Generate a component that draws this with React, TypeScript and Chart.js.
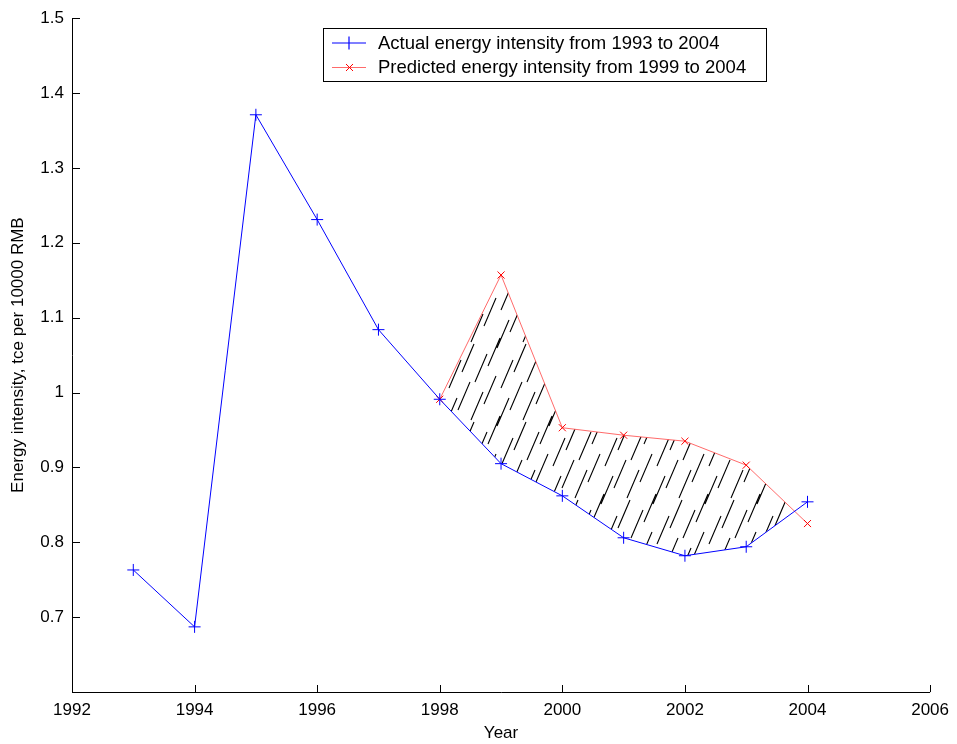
import React, { useEffect, useRef } from "react";
import { Chart, registerables } from "chart.js";

Chart.register(...registerables);

const years = [1993, 1994, 1995, 1996, 1997, 1998, 1999, 2000, 2001, 2002, 2003, 2004];
const actual = [0.763, 0.687, 1.371, 1.231, 1.084, 0.991, 0.905, 0.862, 0.806, 0.782, 0.794, 0.854];
const predYears = [1998, 1999, 2000, 2001, 2002, 2003, 2004];
const predicted = [0.991, 1.157, 0.953, 0.943, 0.935, 0.903, 0.825];
const legendLabels = [
  "Actual energy intensity from 1993 to 2004",
  "Predicted energy intensity from 1999 to 2004",
];
const BLUE = "#0000ff";
const RED = "#ff0000";
const RED_LINE = "rgba(255,80,80,0.85)";
const FONT = "'Liberation Sans', Arial, Helvetica, sans-serif";

function makeHatch(ctx: CanvasRenderingContext2D) {
  const W = 52, H = 78;
  const c = document.createElement("canvas");
  c.width = W; c.height = H;
  const g = c.getContext("2d")!;
  g.strokeStyle = "#000";
  g.lineWidth = 1.1;
  const starts = [
    [3, 30], [16, 14], [29, 36], [42, 20],
    [7, 70], [20, 54], [33, 76], [46, 60],
  ];
  g.beginPath();
  for (const [x1, y1] of starts) {
    const x2 = x1 + 12, y2 = y1 - 28;
    for (const ox of [-W, 0, W]) {
      for (const oy of [-H, 0, H]) {
        g.moveTo(x1 + ox, y1 + oy);
        g.lineTo(x2 + ox, y2 + oy);
      }
    }
  }
  g.stroke();
  return ctx.createPattern(c, "repeat");
}

const axesPlugin = {
  id: "matlabAxes",
  afterDraw(chart: any) {
    const { ctx, chartArea, scales } = chart;
    const { left, right, top, bottom } = chartArea;
    ctx.save();
    ctx.strokeStyle = "#000";
    ctx.lineWidth = 1;
    ctx.beginPath();
    ctx.moveTo(left + 0.5, top);
    ctx.lineTo(left + 0.5, bottom + 0.5);
    ctx.lineTo(right, bottom + 0.5);
    scales.y.ticks.forEach((t: any) => {
      const y = Math.round(scales.y.getPixelForValue(t.value)) + 0.5;
      ctx.moveTo(left, y);
      ctx.lineTo(left + 8, y);
    });
    scales.x.ticks.forEach((t: any) => {
      const x = Math.round(scales.x.getPixelForValue(t.value)) + 0.5;
      ctx.moveTo(x, bottom);
      ctx.lineTo(x, bottom - 7);
    });
    ctx.stroke();

    // legend
    const bx = 323, by = 28, bw = 444, bh = 54;
    ctx.fillStyle = "#fff";
    ctx.fillRect(bx, by, bw, bh);
    ctx.fillStyle = "#000";
    ctx.fillRect(bx, by, bw, 1);
    ctx.fillRect(bx, by + bh - 1, bw, 1);
    ctx.fillRect(bx, by, 1, bh);
    ctx.fillRect(bx + bw - 1, by, 1, bh);

    ctx.lineWidth = 1.2;
    // row 1: blue line + cross
    const r1 = 43;
    ctx.strokeStyle = BLUE;
    ctx.beginPath();
    ctx.moveTo(332, r1); ctx.lineTo(366, r1);
    ctx.moveTo(349, r1 - 6.5); ctx.lineTo(349, r1 + 6.5);
    ctx.stroke();
    // row 2: red line + x
    const r2 = 67;
    ctx.lineWidth = 1;
    ctx.strokeStyle = RED_LINE;
    ctx.beginPath();
    ctx.moveTo(332, r2 + 0.5); ctx.lineTo(366, r2 + 0.5);
    ctx.stroke();
    ctx.strokeStyle = RED;
    ctx.beginPath();
    ctx.moveTo(346, r2 - 3); ctx.lineTo(353, r2 + 4);
    ctx.moveTo(353, r2 - 3); ctx.lineTo(346, r2 + 4);
    ctx.stroke();

    ctx.fillStyle = "#000";
    ctx.font = `18.5px ${FONT}`;
    ctx.textBaseline = "middle";
    ctx.textAlign = "left";
    ctx.fillText(legendLabels[0], 378, r1 + 1);
    ctx.fillText(legendLabels[1], 378, r2 + 1);
    ctx.restore();
  },
};

export default function App() {
  const ref = useRef<HTMLCanvasElement>(null);
  useEffect(() => {
    const canvas = ref.current!;
    const ctx = canvas.getContext("2d")!;
    const hatch = makeHatch(ctx);
    const chart = new Chart(canvas, {
      type: "line",
      data: {
        datasets: [
          {
            label: legendLabels[0],
            data: years.map((x, i) => ({ x, y: actual[i] })),
            borderColor: BLUE,
            pointBorderColor: BLUE,
            borderWidth: 1,
            pointStyle: "cross",
            pointRadius: 6,
            pointBorderWidth: 1,
            fill: false,
            tension: 0,
          },
          {
            label: legendLabels[1],
            data: predYears.map((x, i) => ({ x, y: predicted[i] })),
            borderColor: RED_LINE,
            pointBorderColor: RED,
            borderWidth: 1,
            pointStyle: "crossRot",
            pointRadius: 5,
            pointBorderWidth: 1,
            fill: { target: 0, above: hatch as any, below: "rgba(0,0,0,0)" },
            tension: 0,
          },
        ],
      },
      options: {
        animation: false,
        responsive: false,
        layout: { padding: { left: 0, top: 15, right: 26, bottom: 0 } },
        plugins: { legend: { display: false }, tooltip: { enabled: false } },
        scales: {
          x: {
            type: "linear",
            min: 1992,
            max: 2006,
            grid: { display: false, drawTicks: false },
            border: { display: false },
            ticks: {
              stepSize: 2,
              padding: 8,
              color: "#000",
              font: { size: 17, family: FONT },
              callback: (v: any) => String(v),
              maxRotation: 0,
            },
            title: {
              display: true,
              text: "Year",
              color: "#000",
              font: { size: 17, family: FONT },
              padding: { top: 0, bottom: 0 },
            },
            afterFit: (s: any) => { s.height = 52; },
          },
          y: {
            min: 0.6,
            max: 1.5,
            grid: { display: false, drawTicks: false },
            border: { display: false },
            ticks: {
              stepSize: 0.1,
              padding: 8,
              color: "#000",
              font: { size: 17, family: FONT },
              callback: (v: any) => {
                const r = Math.round(v * 10) / 10;
                if (r <= 0.6) return "";
                return String(r);
              },
            },
            title: {
              display: true,
              text: "Energy intensity, tce per 10000 RMB",
              color: "#000",
              font: { size: 17, family: FONT },
              padding: { top: 8, bottom: 0 },
            },
            afterFit: (s: any) => { s.width = 72; },
          },
        },
      },
      plugins: [axesPlugin],
    });
    return () => chart.destroy();
  }, []);
  return (
    <div style={{ position: "fixed", left: 0, top: 0, width: 957, height: 744, background: "#fff" }}>
      <canvas ref={ref} width={957} height={744} style={{ display: "block" }} />
    </div>
  );
}
